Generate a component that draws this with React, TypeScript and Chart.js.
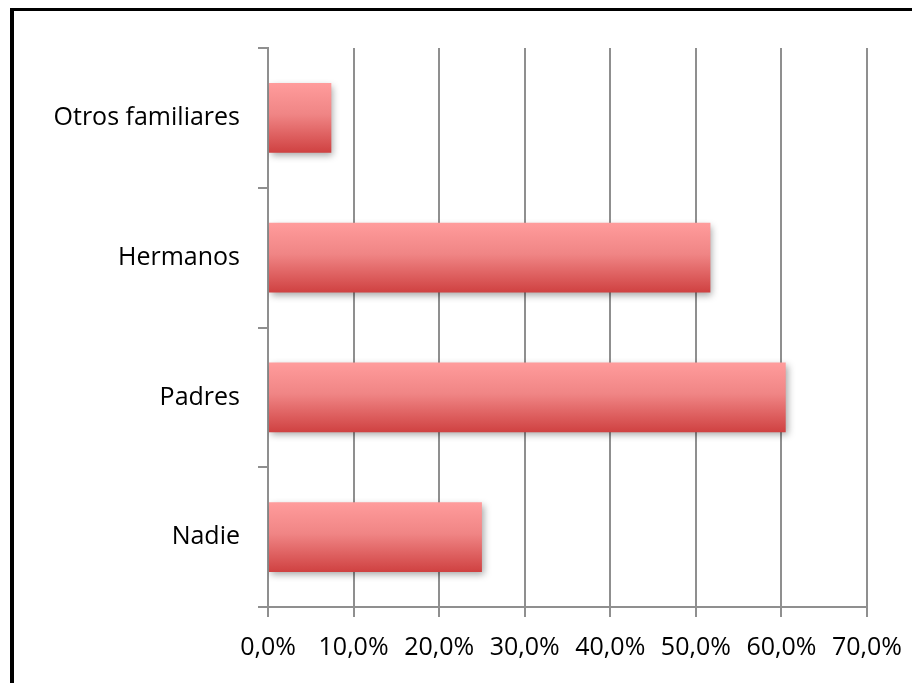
import React, { useEffect, useRef } from "react";
import { Chart, registerables } from "chart.js";

Chart.register(...registerables);

// Categories listed top to bottom
const categories = ["Otros familiares", "Hermanos", "Padres", "Nadie"];
const percentages = [7.4, 51.7, 60.5, 25.0];
const axisMax = 70;
const axisStep = 10;

const FONT = "'Open Sans', 'DejaVu Sans', sans-serif";

// Vertical red gradient per bar plus a soft drop shadow
const barStylePlugin = {
  id: "barStyle",
  beforeDatasetsDraw(chart: any) {
    const ctx = chart.ctx;
    ctx.save();
    ctx.shadowColor = "rgba(0,0,0,0.35)";
    ctx.shadowBlur = 7;
    ctx.shadowOffsetX = 2;
    ctx.shadowOffsetY = 3;
    const meta = chart.getDatasetMeta(0);
    meta.data.forEach((el: any) => {
      const { y, height } = el.getProps(["y", "height"], true);
      const top = y - height / 2;
      const bottom = y + height / 2;
      const g = ctx.createLinearGradient(0, top, 0, bottom);
      g.addColorStop(0, "#ff9c9c");
      g.addColorStop(0.45, "#f08585");
      g.addColorStop(1, "#cf4141");
      el.options = Object.assign({}, el.options, { backgroundColor: g });
    });
  },
  afterDatasetsDraw(chart: any) {
    chart.ctx.restore();
  },
};

export default function App() {
  const canvasRef = useRef<HTMLCanvasElement | null>(null);

  useEffect(() => {
    const canvas = canvasRef.current;
    if (!canvas) return;
    const chart = new Chart(canvas, {
      type: "bar",
      data: {
        labels: categories,
        datasets: [
          {
            data: percentages,
            backgroundColor: "#e06666",
            borderWidth: 0,
            categoryPercentage: 1,
            barPercentage: 0.5,
          },
        ],
      },
      options: {
        indexAxis: "y",
        animation: false,
        responsive: false,
        maintainAspectRatio: false,
        layout: { padding: { left: 0, top: 48, right: 45, bottom: 0 } },
        plugins: {
          legend: { display: false },
          tooltip: { enabled: false },
        },
        scales: {
          x: {
            min: 0,
            max: axisMax,
            ticks: {
              stepSize: axisStep,
              font: { family: FONT, size: 25 },
              color: "#000",
              padding: 16,
              callback: (v: any) => Number(v).toFixed(1).replace(".", ",") + "%",
            },
            grid: {
              color: "#8f8f8f",
              lineWidth: 2,
              tickLength: 10,
              drawTicks: true,
            },
            border: { color: "#8f8f8f", width: 2 },
            afterFit: (scale: any) => {
              scale.height = 76;
              scale.paddingLeft = 0;
              scale.paddingRight = 0;
            },
          },
          y: {
            ticks: {
              font: { family: FONT, size: 25 },
              color: "#000",
              padding: 18,
            },
            grid: {
              color: "#8f8f8f",
              lineWidth: 2,
              tickLength: 10,
              drawOnChartArea: false,
              offset: true,
            },
            border: { color: "#8f8f8f", width: 2 },
            afterFit: (scale: any) => {
              scale.width = 268;
              scale.paddingTop = 0;
              scale.paddingBottom = 0;
            },
          },
        },
      },
      plugins: [barStylePlugin],
    });
    return () => chart.destroy();
  }, []);

  return (
    <div
      style={{
        position: "fixed",
        left: 0,
        top: 0,
        width: 912,
        height: 683,
        overflow: "hidden",
        background: "#fff",
      }}
    >
      <canvas
        ref={canvasRef}
        width={912}
        height={683}
        style={{ position: "absolute", left: 0, top: 0, width: 912, height: 683 }}
      />
      <div
        style={{
          position: "absolute",
          left: 10,
          top: 8,
          width: 940,
          height: 720,
          borderTop: "3px solid #000",
          borderLeft: "4px solid #000",
          pointerEvents: "none",
        }}
      />
    </div>
  );
}
